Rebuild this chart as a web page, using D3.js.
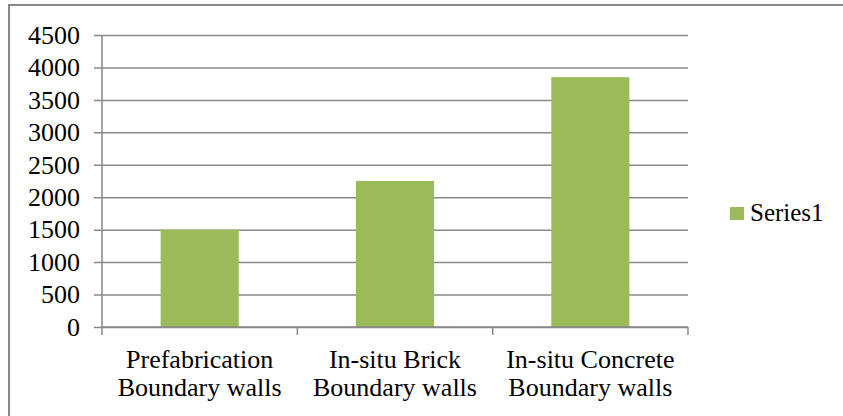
<!DOCTYPE html>
<html>
<head>
<meta charset="utf-8">
<script src="https://cdn.jsdelivr.net/npm/d3@7"></script>
<style>
  body { margin: 0; background: #fff; }
  svg text { font-family: "Liberation Serif", "DejaVu Serif", "Times New Roman", serif; fill: #000; }
</style>
</head>
<body>
<div id="chart"></div>
<script>
const categories = [
  ["Prefabrication", "Boundary walls"],
  ["In-situ Brick", "Boundary walls"],
  ["In-situ Concrete", "Boundary walls"]
];
const values = [1500, 2250, 3850];
const yTicks = [0, 500, 1000, 1500, 2000, 2500, 3000, 3500, 4000, 4500];
const seriesName = "Series1";

const width = 843;
const height = 416;
const plot = { left: 102, right: 688, top: 35, bottom: 327 };
const grey = "#888";
const green = "#9BBB59";
const serif = "'Liberation Serif', 'DejaVu Serif', serif";

const svg = d3.select("#chart")
  .append("svg")
  .attr("width", width)
  .attr("height", height)
  .style("font-family", serif);

// chart area border (only top and left are visible in the crop)
svg.append("path")
  .attr("d", `M9,${height} V5 H${width}`)
  .attr("fill", "none")
  .attr("stroke", grey)
  .attr("stroke-width", 2);

const xScale = d3.scaleBand()
  .domain(categories.map((d, i) => i))
  .range([plot.left, plot.right])
  .paddingInner(0.6)
  .paddingOuter(0.3);

const yScale = d3.scaleLinear()
  .domain([0, 4500])
  .range([plot.bottom, plot.top]);

// gridlines + y axis
const yAxis = svg.append("g")
  .attr("transform", `translate(${plot.left},0)`)
  .call(d3.axisLeft(yScale)
    .tickValues(yTicks)
    .tickSize(8)
    .tickPadding(14)
    .tickFormat(d3.format("d")));
yAxis.attr("font-family", null).style("font-family", serif);
yAxis.select(".domain").remove();
yAxis.selectAll(".tick line")
  .attr("x2", plot.right - plot.left)
  .attr("x1", -8)
  .attr("stroke", grey)
  .attr("stroke-width", 1.5);
yAxis.selectAll(".tick text")
  .attr("font-size", 26)
  .style("font-family", serif);

svg.append("line")
  .attr("x1", plot.left).attr("x2", plot.left)
  .attr("y1", plot.top).attr("y2", plot.bottom + 1)
  .attr("stroke", grey)
  .attr("stroke-width", 1.5);

// bars
svg.selectAll("rect.bar")
  .data(values)
  .enter()
  .append("rect")
  .attr("class", "bar")
  .attr("x", (d, i) => xScale(i))
  .attr("width", xScale.bandwidth())
  .attr("y", d => yScale(d))
  .attr("height", d => yScale(0) - yScale(d))
  .attr("fill", green);

// x axis line and category ticks
const step = xScale.step();
const boundaries = d3.range(categories.length + 1).map(i => plot.left + i * step);
svg.append("line")
  .attr("x1", plot.left).attr("x2", plot.right)
  .attr("y1", plot.bottom).attr("y2", plot.bottom)
  .attr("stroke", grey)
  .attr("stroke-width", 1.5);
svg.selectAll("line.xtick")
  .data(boundaries)
  .enter()
  .append("line")
  .attr("class", "xtick")
  .attr("x1", d => d).attr("x2", d => d)
  .attr("y1", plot.bottom).attr("y2", plot.bottom + 8)
  .attr("stroke", grey)
  .attr("stroke-width", 1.5);

// category labels (two lines each)
const labels = svg.selectAll("text.cat")
  .data(categories)
  .enter()
  .append("text")
  .attr("class", "cat")
  .attr("text-anchor", "middle")
  .attr("font-size", 26)
  .style("font-family", serif)
  .attr("x", (d, i) => xScale(i) + xScale.bandwidth() / 2);
labels.selectAll("tspan")
  .data(d => d)
  .enter()
  .append("tspan")
  .attr("x", function() { return d3.select(this.parentNode).attr("x"); })
  .attr("y", (d, j) => 368 + j * 28)
  .text(d => d);

// legend
const legend = svg.append("g").attr("transform", "translate(730,207)");
legend.append("rect")
  .attr("width", 14).attr("height", 13)
  .attr("fill", green);
legend.append("text")
  .attr("x", 20).attr("y", 14)
  .attr("font-size", 25)
  .style("font-family", serif)
  .text(seriesName);
</script>
</body>
</html>
